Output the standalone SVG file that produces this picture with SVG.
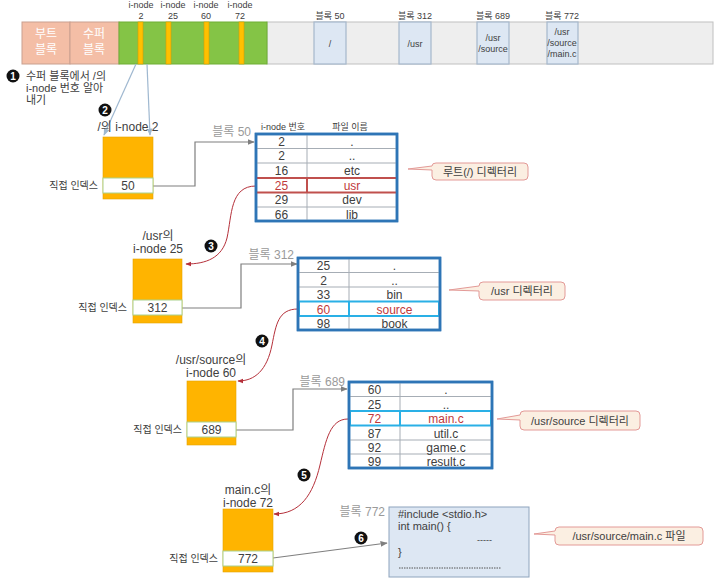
<svg xmlns="http://www.w3.org/2000/svg" width="717" height="585" viewBox="0 0 717 585">
<defs>
<style>
text{font-family:"Liberation Sans","Noto Sans CJK KR",sans-serif;fill:#404040}
.t9{font-size:9px}
.t10{font-size:10px}
.t11{font-size:11px}
.t12{font-size:12px}
.mid{text-anchor:middle}
.end{text-anchor:end}
.gray{fill:#9a9a9a}
.red{fill:#c0393b}
.tbl{fill:#ffffff;stroke:#2e75b6;stroke-width:2.5}
.row{stroke:#a6adb5;stroke-width:1}
.hlr{fill:none;stroke:#c0504d;stroke-width:2}
.hlb{fill:none;stroke:#2ab0e6;stroke-width:2}
.ino{fill:#ffb400;stroke:#e3a300;stroke-width:0.6}
.idx{fill:#ffffff;stroke:#a9d18e;stroke-width:1}
.conn{fill:none;stroke:#7f7f7f;stroke-width:1.2}
.rc{fill:none;stroke:#b5303a;stroke-width:1}
.bl{fill:none;stroke:#9fb8d0;stroke-width:1.2}
.call{fill:#fbefe2;stroke:#e39a97;stroke-width:1}
.blk{fill:#dde7f3;stroke:#a6b8cc;stroke-width:1.2}
.num circle{fill:#111}
.num text{fill:#fff;font-size:10px;font-weight:bold;text-anchor:middle}
</style>
<marker id="ag" viewBox="0 0 10 10" refX="9" refY="5" markerWidth="6" markerHeight="6" orient="auto"><path d="M0,1 L10,5 L0,9 z" fill="#7f7f7f"/></marker>
<marker id="ar" viewBox="0 0 10 10" refX="9" refY="5" markerWidth="6" markerHeight="6" orient="auto"><path d="M0,1 L10,5 L0,9 z" fill="#b5303a"/></marker>
<marker id="ab" viewBox="0 0 10 10" refX="9" refY="5" markerWidth="6" markerHeight="6" orient="auto"><path d="M0,1 L10,5 L0,9 z" fill="#9fb8d0"/></marker>
</defs>

<g id="disk">
<rect x="267" y="22" width="446" height="42" fill="#eeeeee" stroke="#c0c0c0" stroke-width="1"/>
<rect x="22" y="22" width="48" height="42" fill="#f4bea6" stroke="#c9a08f" stroke-width="1"/>
<rect x="70" y="22" width="49" height="42" fill="#f4bea6" stroke="#c9a08f" stroke-width="1"/>
<text x="46" y="38" class="t12 mid" style="fill:#ffffff">부트</text>
<text x="46" y="54" class="t12 mid" style="fill:#ffffff">블록</text>
<text x="94" y="38" class="t12 mid" style="fill:#ffffff">수퍼</text>
<text x="94" y="54" class="t12 mid" style="fill:#ffffff">블록</text>
<rect x="119" y="22" width="148" height="42" fill="#84c446" stroke="#6fae35" stroke-width="1"/>
<rect x="138" y="22" width="5" height="42" fill="#ffc000" stroke="#d89c00" stroke-width="0.6"/>
<rect x="166" y="22" width="5" height="42" fill="#ffc000" stroke="#d89c00" stroke-width="0.6"/>
<rect x="204" y="22" width="5" height="42" fill="#ffc000" stroke="#d89c00" stroke-width="0.6"/>
<rect x="239" y="22" width="5" height="42" fill="#ffc000" stroke="#d89c00" stroke-width="0.6"/>
<text x="141" y="8" class="t9 mid">i-node</text><text x="141" y="19" class="t9 mid">2</text>
<text x="173" y="8" class="t9 mid">i-node</text><text x="173" y="19" class="t9 mid">25</text>
<text x="206" y="8" class="t9 mid">i-node</text><text x="206" y="19" class="t9 mid">60</text>
<text x="240" y="8" class="t9 mid">i-node</text><text x="240" y="19" class="t9 mid">72</text>
<rect x="314" y="22" width="32" height="42" class="blk"/>
<rect x="399" y="22" width="32" height="42" class="blk"/>
<rect x="477" y="22" width="32" height="42" class="blk"/>
<rect x="547" y="22" width="31" height="42" class="blk"/>
<text x="330" y="19" class="t9 mid">블록 50</text>
<text x="415" y="19" class="t9 mid">블록 312</text>
<text x="493" y="19" class="t9 mid">블록 689</text>
<text x="562" y="19" class="t9 mid">블록 772</text>
<text x="330" y="47" class="t9 mid">/</text>
<text x="415" y="47" class="t9 mid">/usr</text>
<text x="493" y="41" class="t9 mid">/usr</text>
<text x="493" y="52" class="t9 mid">/source</text>
<text x="562" y="35" class="t9 mid">/usr</text>
<text x="562" y="46" class="t9 mid">/source</text>
<text x="562" y="57" class="t9 mid">/main.c</text>
</g>

<g id="step1">
<g class="num"><circle cx="13" cy="76" r="6.5"/><text x="13" y="79.5">1</text></g>
<text x="26" y="80" class="t11">수퍼 블록에서 /의</text>
<text x="26" y="92" class="t11">i-node 번호 알아</text>
<text x="26" y="104" class="t11">내기</text>
</g>

<g id="connectors">
<line x1="136" y1="64" x2="104" y2="135" class="bl" marker-end="url(#ab)"/>
<line x1="147" y1="64" x2="150" y2="135" class="bl" marker-end="url(#ab)"/>
<polyline points="153,186 195,186 195,142 254,142" class="conn" marker-end="url(#ag)"/>
<polyline points="182,308 241,308 241,264 297,264" class="conn" marker-end="url(#ag)"/>
<polyline points="236,430 293,430 293,389 347,389" class="conn" marker-end="url(#ag)"/>
<line x1="273" y1="558" x2="387" y2="543" class="conn" marker-end="url(#ag)"/>
<path d="M256,186 C230,186 232,215 227,238 C222,258 206,264 186,264" class="rc" marker-end="url(#ar)"/>
<path d="M298,309 C278,309 276,325 272,345 C267,370 255,381 238,381" class="rc" marker-end="url(#ar)"/>
<path d="M348,419 C330,419 326,440 320,465 C313,495 300,514 274,514" class="rc" marker-end="url(#ar)"/>
<g class="num"><circle cx="105" cy="110" r="6.5"/><text x="105" y="113.5">2</text></g>
<g class="num"><circle cx="211" cy="246" r="6.5"/><text x="211" y="249.5">3</text></g>
<g class="num"><circle cx="262" cy="341" r="6.5"/><text x="262" y="344.5">4</text></g>
<g class="num"><circle cx="304" cy="475" r="6.5"/><text x="304" y="478.5">5</text></g>
<g class="num"><circle cx="361" cy="538" r="6.5"/><text x="361" y="541.5">6</text></g>
</g>

<g id="inode2">
<text x="128" y="131" class="t12 mid">/의 i-node 2</text>
<rect x="103" y="137" width="50" height="62" class="ino"/>
<rect x="103" y="178" width="50" height="15" class="idx"/>
<text x="128" y="190" class="t12 mid">50</text>
<text x="98" y="189" class="t10 end">직접 인덱스</text>
</g>

<g id="inode25">
<text x="158" y="240" class="t12 mid">/usr의</text>
<text x="158" y="253" class="t12 mid">i-node 25</text>
<rect x="133" y="259" width="49" height="64" class="ino"/>
<rect x="133" y="300" width="49" height="15" class="idx"/>
<text x="157.5" y="312" class="t12 mid">312</text>
<text x="127" y="311" class="t10 end">직접 인덱스</text>
</g>

<g id="inode60">
<text x="211" y="364" class="t12 mid">/usr/source의</text>
<text x="211" y="377" class="t12 mid">i-node 60</text>
<rect x="187" y="381" width="49" height="64" class="ino"/>
<rect x="187" y="422" width="49" height="15" class="idx"/>
<text x="211.5" y="434" class="t12 mid">689</text>
<text x="182" y="433" class="t10 end">직접 인덱스</text>
</g>

<g id="inode72">
<text x="248" y="494" class="t12 mid">main.c의</text>
<text x="248" y="507" class="t12 mid">i-node 72</text>
<rect x="223" y="509" width="50" height="63" class="ino"/>
<rect x="223" y="551" width="50" height="15" class="idx"/>
<text x="248" y="563" class="t12 mid">772</text>
<text x="218" y="562" class="t10 end">직접 인덱스</text>
</g>

<g id="table50">
<text x="251" y="136" class="t12 end gray">블록 50</text>
<text x="283" y="130" class="t9 mid">i-node 번호</text>
<text x="350" y="130" class="t9 mid">파일 이름</text>
<rect x="256" y="134" width="141" height="87" class="tbl"/>
<line x1="256" y1="148.5" x2="397" y2="148.5" class="row"/>
<line x1="256" y1="163" x2="397" y2="163" class="row"/>
<line x1="256" y1="207" x2="397" y2="207" class="row"/>
<line x1="256" y1="192.5" x2="397" y2="192.5" class="row"/>
<line x1="307" y1="134" x2="307" y2="221" class="row"/>
<line x1="257" y1="178" x2="396" y2="178" class="hlr"/>
<line x1="257" y1="192.5" x2="396" y2="192.5" class="hlr"/>
<line x1="307" y1="178" x2="307" y2="192.5" class="hlr"/>
<rect x="256" y="134" width="141" height="87" fill="none" stroke="#2e75b6" stroke-width="2.5"/>
<text x="281.5" y="146" class="t12 mid">2</text><text x="352" y="146" class="t12 mid">.</text>
<text x="281.5" y="160" class="t12 mid">2</text><text x="352" y="160" class="t12 mid">..</text>
<text x="281.5" y="175" class="t12 mid">16</text><text x="352" y="175" class="t12 mid">etc</text>
<text x="281.5" y="189.5" class="t12 mid red">25</text><text x="352" y="189.5" class="t12 mid red">usr</text>
<text x="281.5" y="204" class="t12 mid">29</text><text x="352" y="204" class="t12 mid">dev</text>
<text x="281.5" y="218.5" class="t12 mid">66</text><text x="352" y="218.5" class="t12 mid">lib</text>
</g>

<g id="callout-root">
<path d="M436,163 H524 Q528,163 528,167 V176 Q528,180 524,180 H436 Q432,180 432,176 V170 L408,169 L432,166 Q432,163 436,163 Z" class="call"/>
<text x="480" y="175.5" class="t11 mid">루트(/) 디렉터리</text>
</g>

<g id="table312">
<text x="294" y="259" class="t12 end gray">블록 312</text>
<rect x="298" y="258" width="142" height="72" class="tbl"/>
<line x1="298" y1="272.5" x2="440" y2="272.5" class="row"/>
<line x1="298" y1="287" x2="440" y2="287" class="row"/>
<line x1="298" y1="316" x2="440" y2="316" class="row"/>
<line x1="349" y1="258" x2="349" y2="330" class="row"/>
<rect x="299" y="301.5" width="140" height="14.5" class="hlb"/>
<line x1="349" y1="301.5" x2="349" y2="316" class="hlb"/>
<rect x="298" y="258" width="142" height="72" fill="none" stroke="#2e75b6" stroke-width="2.5"/>
<text x="323.5" y="270" class="t12 mid">25</text><text x="394.5" y="270" class="t12 mid">.</text>
<text x="323.5" y="284.5" class="t12 mid">2</text><text x="394.5" y="284.5" class="t12 mid">..</text>
<text x="323.5" y="299" class="t12 mid">33</text><text x="394.5" y="299" class="t12 mid">bin</text>
<text x="323.5" y="313.5" class="t12 mid red">60</text><text x="394.5" y="313.5" class="t12 mid red">source</text>
<text x="323.5" y="328" class="t12 mid">98</text><text x="394.5" y="328" class="t12 mid">book</text>
</g>

<g id="callout-usr">
<path d="M483,282 H561 Q565,282 565,286 V296 Q565,300 561,300 H483 Q479,300 479,296 V291 L449,290 L479,286 Q479,282 483,282 Z" class="call"/>
<text x="522" y="295" class="t11 mid">/usr 디렉터리</text>
</g>

<g id="table689">
<text x="345" y="386" class="t12 end gray">블록 689</text>
<rect x="349" y="382" width="143" height="86" class="tbl"/>
<line x1="349" y1="396.5" x2="492" y2="396.5" class="row"/>
<line x1="349" y1="440" x2="492" y2="440" class="row"/>
<line x1="349" y1="454" x2="492" y2="454" class="row"/>
<line x1="400" y1="382" x2="400" y2="468" class="row"/>
<rect x="350" y="411" width="141" height="14.5" class="hlb"/>
<line x1="400" y1="411" x2="400" y2="425.5" class="hlb"/>
<rect x="349" y="382" width="143" height="86" fill="none" stroke="#2e75b6" stroke-width="2.5"/>
<text x="374.5" y="394" class="t12 mid">60</text><text x="446" y="394" class="t12 mid">.</text>
<text x="374.5" y="408.5" class="t12 mid">25</text><text x="446" y="408.5" class="t12 mid">..</text>
<text x="374.5" y="423" class="t12 mid red">72</text><text x="446" y="423" class="t12 mid red">main.c</text>
<text x="374.5" y="437.5" class="t12 mid">87</text><text x="446" y="437.5" class="t12 mid">util.c</text>
<text x="374.5" y="451.5" class="t12 mid">92</text><text x="446" y="451.5" class="t12 mid">game.c</text>
<text x="374.5" y="465.5" class="t12 mid">99</text><text x="446" y="465.5" class="t12 mid">result.c</text>
</g>

<g id="callout-source">
<path d="M524,411 H636 Q640,411 640,415 V426 Q640,430 636,430 H524 Q520,430 520,426 V420 L497,419 L520,415 Q520,411 524,411 Z" class="call"/>
<text x="580" y="424.5" class="t11 mid">/usr/source 디렉터리</text>
</g>

<g id="file772">
<text x="385" y="516" class="t12 end gray">블록 772</text>
<rect x="389" y="507" width="140" height="70" fill="#dde7f3" stroke="#8ea4bd" stroke-width="1"/>
<text x="398" y="518" class="t11">#include &lt;stdio.h&gt;</text>
<text x="398" y="530" class="t11">int main() {</text>
<text x="477" y="543" class="t9">-----</text>
<text x="398" y="556" class="t11">}</text>
<line x1="399" y1="568" x2="501" y2="568" stroke="#555" stroke-width="1" stroke-dasharray="1.5,1"/>
</g>

<g id="callout-main">
<path d="M559,527 H699 Q703,527 703,531 V541 Q703,545 699,545 H559 Q555,545 555,541 V535 L534,534 L555,531 Q555,527 559,527 Z" class="call"/>
<text x="629" y="540" class="t11 mid">/usr/source/main.c 파일</text>
</g>
</svg>
